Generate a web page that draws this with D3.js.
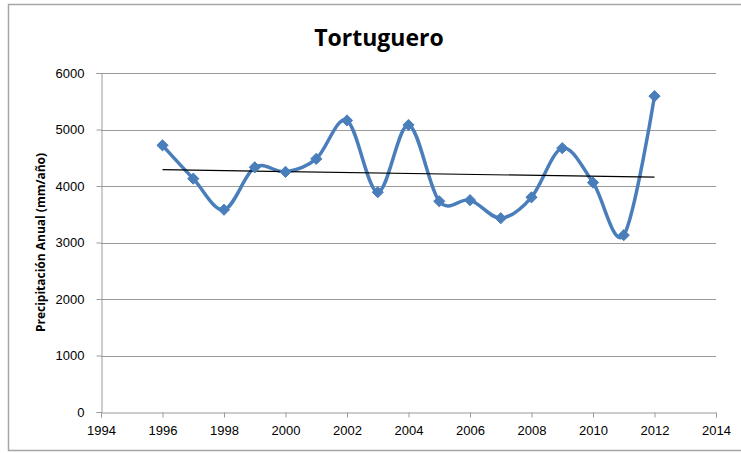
<!DOCTYPE html>
<html>
<head>
<meta charset="utf-8">
<script src="https://cdn.jsdelivr.net/npm/d3@7"></script>
<style>
  html, body { margin: 0; padding: 0; background: #fff; }
  svg { display: block; font-family: "Open Sans", "Liberation Sans", sans-serif; }
</style>
</head>
<body>
<svg id="chart" width="741" height="453"></svg>
<script>
// Annual rainfall at Tortuguero (mm/year)
const years = [1996, 1997, 1998, 1999, 2000, 2001, 2002, 2003, 2004,
               2005, 2006, 2007, 2008, 2009, 2010, 2011, 2012];
const rainfall = [4720, 4130, 3580, 4330, 4250, 4480, 5160, 3890, 5080,
                  3730, 3750, 3430, 3800, 4670, 4060, 3130, 5590];
const xTicks = [1994, 1996, 1998, 2000, 2002, 2004, 2006, 2008, 2010, 2012, 2014];
const yTicks = [0, 1000, 2000, 3000, 4000, 5000, 6000];
const title = "Tortuguero";
const yTitle = "Precipitación Anual (mm/año)";

const svg = d3.select("#chart");
const W = 741, H = 453;
const plot = { left: 101, right: 716, top: 73, bottom: 412 };

// Outer chart frame
svg.append("rect")
  .attr("x", 8.5).attr("y", 4.5)
  .attr("width", W + 10).attr("height", 446)
  .attr("fill", "#fff").attr("stroke", "#a6a6a6").attr("stroke-width", 1.5);

const x = d3.scaleLinear().domain([1994, 2014]).range([plot.left, plot.right]);
const y = d3.scaleLinear().domain([0, 6000]).range([plot.bottom, plot.top]);

// Horizontal gridlines
svg.append("g")
  .selectAll("line")
  .data(yTicks.filter(d => d > 0))
  .join("line")
  .attr("x1", plot.left).attr("x2", plot.right)
  .attr("y1", d => Math.round(y(d)) + 0.5).attr("y2", d => Math.round(y(d)) + 0.5)
  .attr("stroke", "#9a9a9a").attr("stroke-width", 1);

// Y axis
const yAxis = svg.append("g")
  .attr("transform", `translate(${plot.left + 0.5},0)`)
  .call(d3.axisLeft(y).tickValues(yTicks).tickSize(5).tickPadding(12).tickFormat(d3.format("d")));
yAxis.select(".domain").attr("stroke", "#9a9a9a");
yAxis.selectAll(".tick line").attr("stroke", "#9a9a9a");
yAxis.selectAll("text").attr("font-size", 13).attr("fill", "#000");

// X axis
const xAxis = svg.append("g")
  .attr("transform", `translate(0,${plot.bottom + 0.5})`)
  .call(d3.axisBottom(x).tickValues(xTicks).tickSize(5).tickPadding(8).tickFormat(d3.format("d")));
xAxis.select(".domain").attr("stroke", "#9a9a9a");
xAxis.selectAll(".tick line").attr("stroke", "#9a9a9a");
xAxis.selectAll("text").attr("font-size", 13).attr("fill", "#000");

// Least-squares linear trend of the series
const mx = d3.mean(years), my = d3.mean(rainfall);
const slope = d3.sum(years, (yr, i) => (yr - mx) * (rainfall[i] - my)) /
              d3.sum(years, yr => (yr - mx) ** 2);
const trendAt = yr => my + slope * (yr - mx);
const first = years[0], last = years[years.length - 1];

const pts = years.map((yr, i) => [yr, rainfall[i]]);

// Smoothed series line
svg.append("path")
  .datum(pts)
  .attr("fill", "none")
  .attr("stroke", "#4a7ebb")
  .attr("stroke-width", 3.5)
  .attr("stroke-linejoin", "round")
  .attr("d", d3.line().x(d => x(d[0])).y(d => y(d[1])).curve(d3.curveCardinal.tension(0)));

// Trend line
svg.append("line")
  .attr("x1", x(first)).attr("y1", y(trendAt(first)))
  .attr("x2", x(last)).attr("y2", y(trendAt(last)))
  .attr("stroke", "#000").attr("stroke-width", 1.2);

// Diamond markers
svg.append("g")
  .selectAll("path")
  .data(pts)
  .join("path")
  .attr("transform", d => `translate(${x(d[0])},${y(d[1])})`)
  .attr("d", d3.symbol(d3.symbolDiamond2, 80)())
  .attr("fill", "#4a7ebb")
  .attr("stroke", "#4a7ebb").attr("stroke-width", 1);

// Title
svg.append("text")
  .attr("x", 379).attr("y", 46)
  .attr("text-anchor", "middle")
  .attr("font-size", 23).attr("font-weight", "bold")
  .text(title);

// Y axis title
svg.append("text")
  .attr("transform", `translate(45,${(plot.top + plot.bottom) / 2}) rotate(-90)`)
  .attr("text-anchor", "middle")
  .attr("font-size", 12).attr("font-weight", "bold")
  .text(yTitle);
</script>
</body>
</html>
